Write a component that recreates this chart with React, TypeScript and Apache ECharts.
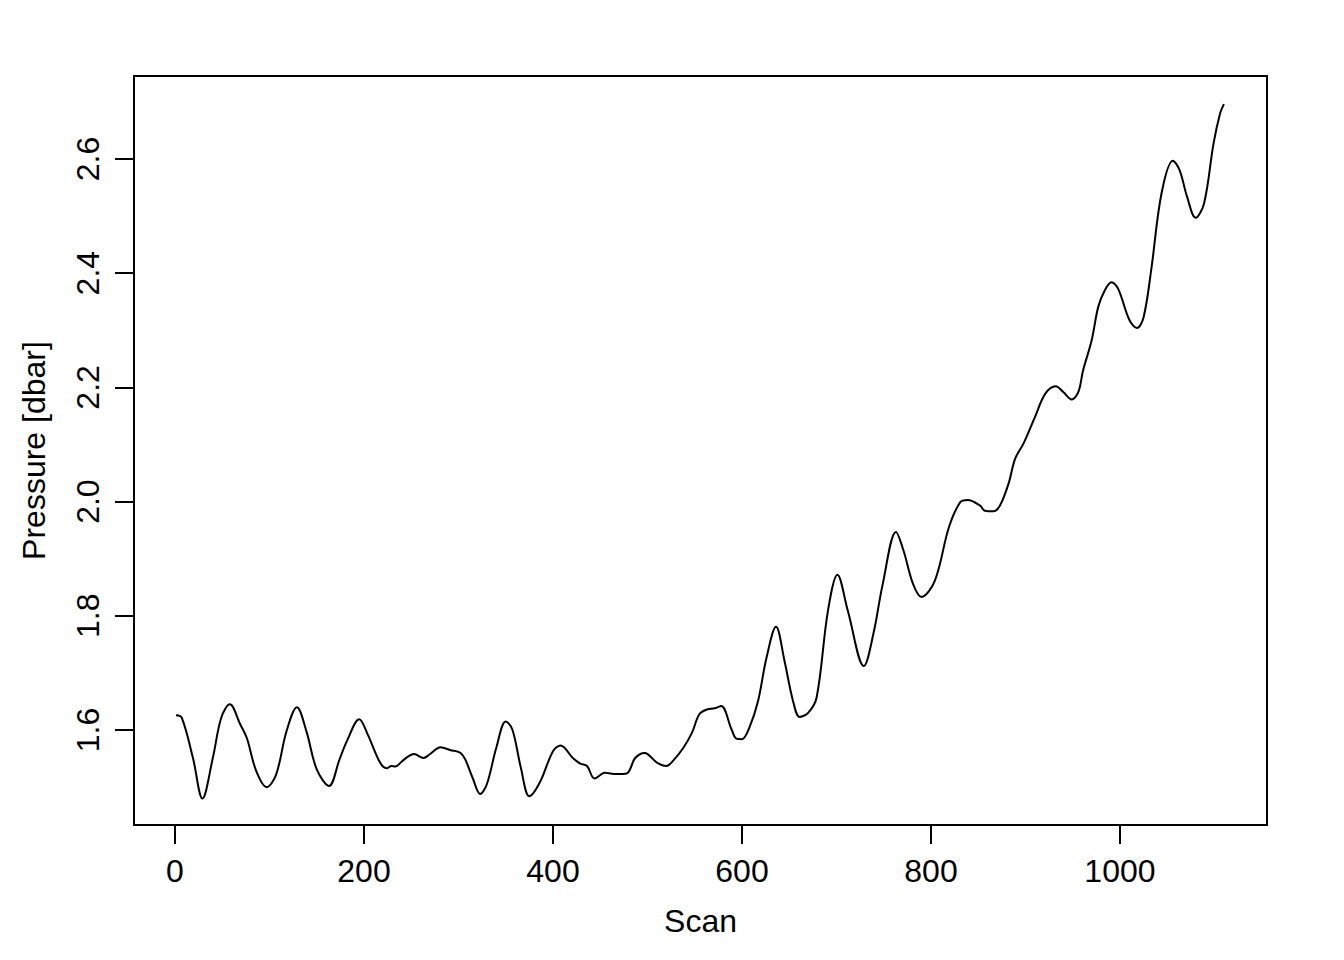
import React, { useEffect, useRef } from "react";
import * as echarts from "echarts";

const scans = [
  1, 7, 19, 29, 40, 49, 58, 69, 76, 86, 97, 107, 118, 129, 139, 150, 163, 174, 182, 195,
  204, 217, 224, 229, 233, 240, 247, 253, 263, 270, 281, 291, 302, 307, 315, 323, 330, 340,
  350, 357, 366, 375, 386, 400, 408, 421, 429, 436, 444, 455, 467, 478, 487, 497, 510, 520,
  527, 538, 547, 555, 563, 571, 578, 589, 594, 600, 608, 617, 626, 636, 645, 654, 661, 670,
  679, 691, 701, 712, 729, 739, 749, 763, 771, 781, 790, 804, 819, 831, 839, 852, 857, 866,
  873, 882, 889, 898, 910, 921, 932, 940, 949, 956, 961, 970, 977, 984, 991, 998, 1010, 1018,
  1025, 1033, 1044, 1056, 1063, 1071, 1080, 1089, 1099, 1106, 1110,
];
const pressure = [
  1.626, 1.622, 1.551, 1.48, 1.551, 1.622, 1.645, 1.61, 1.586, 1.528, 1.5, 1.522, 1.598, 1.64,
  1.598, 1.531, 1.502, 1.548, 1.581, 1.619, 1.592, 1.543, 1.533, 1.537, 1.536, 1.545, 1.554,
  1.558, 1.551, 1.558, 1.57, 1.565, 1.56, 1.549, 1.516, 1.488, 1.505, 1.569, 1.615, 1.601,
  1.534, 1.484, 1.508, 1.563, 1.573, 1.551, 1.541, 1.537, 1.515, 1.525, 1.523, 1.524, 1.551,
  1.56, 1.543, 1.537, 1.546, 1.569, 1.595, 1.628, 1.636, 1.638, 1.642, 1.601, 1.585, 1.584,
  1.605, 1.651, 1.727, 1.781, 1.721, 1.651, 1.623, 1.63, 1.657, 1.809, 1.872, 1.809, 1.712,
  1.768, 1.856, 1.947, 1.914, 1.856, 1.833, 1.861, 1.955, 1.999, 2.003, 1.993, 1.984, 1.983,
  1.993, 2.031, 2.075, 2.102, 2.148, 2.189, 2.202, 2.192, 2.179, 2.192, 2.23, 2.282, 2.341,
  2.37, 2.384, 2.373, 2.318, 2.304, 2.323, 2.405, 2.54, 2.597, 2.581, 2.534, 2.497, 2.522,
  2.627, 2.68, 2.696,
];
const xTicks = [0, 200, 400, 600, 800, 1000];
const yTicks = [1.6, 1.8, 2.0, 2.2, 2.4, 2.6];
const xTitle = "Scan";
const yTitle = "Pressure [dbar]";

const FONT = "'Liberation Sans', Arial, Helvetica, sans-serif";

export default function App() {
  const ref = useRef<HTMLDivElement>(null);
  useEffect(() => {
    if (!ref.current) return;
    const chart = echarts.init(ref.current, null, { renderer: "svg" });
    const data = scans.map((s, i) => [s, pressure[i]]);
    chart.setOption({
      animation: false,
      backgroundColor: "#ffffff",
      grid: {
        left: 134,
        top: 76,
        width: 1133,
        height: 749,
        show: true,
        borderColor: "#000",
        borderWidth: 2,
        backgroundColor: "transparent",
      },
      xAxis: {
        type: "value",
        min: -43.4,
        max: 1155.6,
        name: xTitle,
        nameLocation: "middle",
        nameGap: 80,
        nameTextStyle: { fontFamily: FONT, fontSize: 32, color: "#000" },
        axisLine: { show: false, onZero: false },
        splitLine: { show: false },
        axisTick: {
          show: true,
          length: 19,
          customValues: xTicks,
          lineStyle: { color: "#000", width: 2 },
        },
        axisLabel: {
          customValues: xTicks,
          margin: 30,
          fontFamily: FONT,
          fontSize: 32,
          color: "#000",
          formatter: (v: number) => String(v),
        },
      },
      yAxis: {
        type: "value",
        min: 1.4337,
        max: 2.7453,
        name: yTitle,
        nameLocation: "middle",
        nameGap: 84,
        nameRotate: 90,
        nameTextStyle: { fontFamily: FONT, fontSize: 32, color: "#000" },
        axisLine: { show: false, onZero: false },
        splitLine: { show: false },
        axisTick: {
          show: true,
          length: 19,
          customValues: yTicks,
          lineStyle: { color: "#000", width: 2 },
        },
        axisLabel: {
          customValues: yTicks,
          rotate: 90,
          margin: 30,
          fontFamily: FONT,
          fontSize: 32,
          color: "#000",
          formatter: (v: number) => v.toFixed(1),
        },
      },
      series: [
        {
          type: "line",
          data,
          smooth: 0.35,
          showSymbol: false,
          lineStyle: { color: "#000", width: 2 },
        },
      ],
    });
    return () => chart.dispose();
  }, []);
  return (
    <div
      ref={ref}
      style={{ position: "fixed", left: 0, top: 0, width: 1344, height: 960, background: "#fff" }}
    />
  );
}
